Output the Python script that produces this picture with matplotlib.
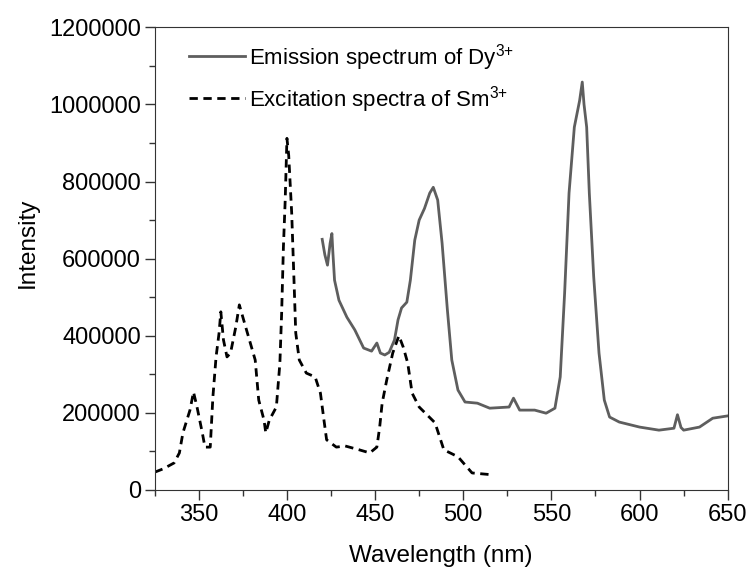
import matplotlib
matplotlib.use('Agg')
import matplotlib.pyplot as plt
from matplotlib.ticker import MultipleLocator, FormatStrFormatter

plt.rcParams['font.family'] = ['Liberation Sans', 'DejaVu Sans']
plt.rcParams['mathtext.fontset'] = 'custom'
plt.rcParams['mathtext.rm'] = 'Liberation Sans'
plt.rcParams['mathtext.it'] = 'Liberation Sans'

# emission spectrum of Dy3+ (nm, intensity)
em_wl = [420, 421.5, 423, 424.5, 425.5, 426, 427, 429.5, 434, 438.5, 443.5, 448, 451, 453,
         455.5, 458, 461, 463, 465, 468, 470, 472.5, 475, 478, 481, 483, 485.5, 488, 491,
         493.5, 497, 501, 508, 515, 526, 528.5, 532, 540.5, 547, 552, 555, 557.5, 560,
         563, 566, 567.5, 568.5, 570, 571.5, 574, 577, 580, 583, 588.5, 600, 611, 619.5,
         621.5, 623.5, 625, 634, 641.5, 650]
em_int = [650000, 610000, 583000, 640000, 665000, 620000, 544000, 492000, 448000, 415000,
          368000, 360000, 381000, 355000, 350000, 357000, 389000, 441000, 472000, 487000,
          544000, 648000, 700000, 730000, 770000, 785000, 752000, 640000, 467000, 337000,
          259000, 228000, 225000, 212000, 215000, 238000, 207000, 207000, 199000, 212000,
          293000, 511000, 770000, 941000, 1010000, 1058000, 1000000, 941000, 770000, 552000,
          355000, 233000, 189000, 176000, 163000, 155000, 160000, 195000, 162000, 155000,
          163000, 186000, 192000]

# excitation spectrum of Sm3+
ex_wl = [325, 330, 336, 339, 341, 345, 347, 349, 352, 353.5, 356.5, 358, 359.8, 361.5,
         362.5, 364, 366, 368, 371, 373, 375.5, 382, 384, 387, 388, 390, 394, 396, 397,
         398, 399, 400, 401, 402.7, 404, 405, 407, 411, 416, 419, 421, 422.5, 428, 433,
         441, 447, 451, 452.6, 454, 456.6, 460, 463.5, 466, 468.5, 471, 475, 484, 489, 497,
         505, 517]
ex_int = [46000, 55000, 70000, 96000, 148000, 207000, 254000, 215000, 148000, 111000,
          111000, 241000, 345000, 407000, 462000, 389000, 345000, 355000, 423000, 480000,
          440000, 337000, 233000, 181000, 148000, 181000, 215000, 329000, 459000, 630000,
          750000, 912000, 868000, 718000, 544000, 407000, 337000, 303000, 293000, 251000,
          181000, 130000, 111000, 114000, 104000, 96000, 111000, 163000, 225000, 285000,
          355000, 400000, 370000, 329000, 251000, 215000, 174000, 104000, 86000, 44000, 39000]

fig = plt.figure(figsize=(7.51, 5.69), dpi=100)
ax = fig.add_axes([0.206, 0.139, 0.763, 0.813])

ax.plot(em_wl, em_int, color='#5e5e5e', lw=2, label='Emission spectrum of Dy$^{3{+}}$')
ax.plot(ex_wl, ex_int, color='black', lw=2, ls=(0, (3, 2)), label='Excitation spectra of Sm$^{3{+}}$')

ax.set_xlim(325, 650)
ax.set_ylim(0, 1200000)
ax.xaxis.set_major_locator(MultipleLocator(50))
ax.xaxis.set_minor_locator(MultipleLocator(25))
ax.yaxis.set_major_locator(MultipleLocator(200000))
ax.yaxis.set_minor_locator(MultipleLocator(100000))
ax.yaxis.set_major_formatter(FormatStrFormatter('%d'))
ax.tick_params(which='both', direction='out', labelsize=17, width=1, color='#333333')
ax.tick_params(which='major', length=7, pad=3)
ax.tick_params(which='minor', length=4)
for s in ax.spines.values():
    s.set_color('#333333')

ax.set_xlabel('Wavelength (nm)', fontsize=17.5, labelpad=14)
ax.set_ylabel('Intensity', fontsize=17.5)
ax.yaxis.set_label_coords(-0.203, 0.535)

ax.legend(loc='upper left', frameon=False, fontsize=16, handlelength=2.5,
          handletextpad=0.2, borderaxespad=0.0, labelspacing=0.5,
          bbox_to_anchor=(0.045, 0.988))

fig.savefig('out.png', dpi=100)
